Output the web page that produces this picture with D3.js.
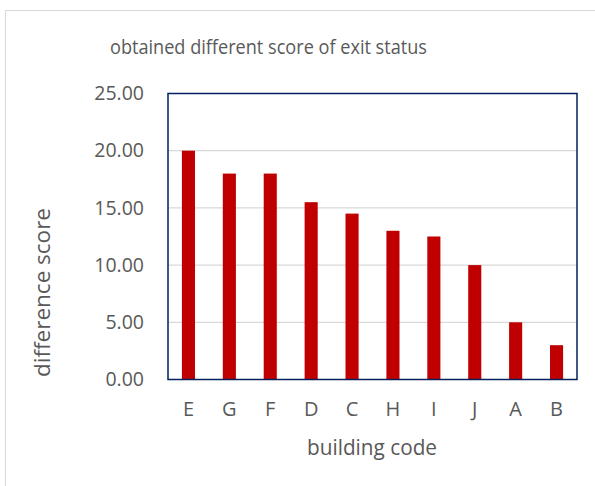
<!DOCTYPE html>
<html><head><meta charset="utf-8">
<script src="https://cdn.jsdelivr.net/npm/d3@7/dist/d3.min.js"></script>
<style>
html,body{margin:0;padding:0;background:#fff;}
svg{display:block;font-family:"Open Sans",sans-serif;}
</style></head>
<body><svg id="chart" width="595" height="486"></svg>
<script>
const categories = ["E","G","F","D","C","H","I","J","A","B"];
const values = [20, 18, 18, 15.5, 14.5, 13, 12.5, 10, 5, 3];
const yTicks = [0, 5, 10, 15, 20, 25];
const title = "obtained different score of exit status";
const xTitle = "building code";
const yTitle = "difference score";

const svg = d3.select("#chart");
const m = {left:168, top:93.5, right:577, bottom:379.5};

svg.append("rect").attr("x",5.5).attr("y",10.5).attr("width",620).attr("height",520)
  .attr("fill","#fff").attr("stroke","#d9d9d9").attr("stroke-width",1);

const x = d3.scaleBand().domain(categories).range([m.left, m.right]).paddingInner(0.68).paddingOuter(0.34);
const y = d3.scaleLinear().domain([0,25]).range([m.bottom, m.top]);

// gridlines
svg.append("g").selectAll("line").data(yTicks.filter(d=>d>0&&d<25)).join("line")
  .attr("x1",m.left).attr("x2",m.right).attr("y1",d=>y(d)).attr("y2",d=>y(d))
  .attr("stroke","#d9d9d9").attr("stroke-width",1.3);

// bars
svg.append("g").selectAll("rect").data(values).join("rect")
  .attr("x",(d,i)=>x(categories[i])).attr("width",x.bandwidth())
  .attr("y",d=>y(d)).attr("height",d=>y(0)-y(d))
  .attr("fill","#c00000");

// plot border
svg.append("rect").attr("x",m.left).attr("y",m.top).attr("width",m.right-m.left).attr("height",m.bottom-m.top)
  .attr("fill","none").attr("stroke","#002060").attr("stroke-width",1.5);

// y axis
const yAxis = d3.axisLeft(y).tickValues(yTicks).tickFormat(d3.format(".2f")).tickSize(0).tickPadding(24);
const gy = svg.append("g").attr("transform",`translate(${m.left},0)`).call(yAxis);
gy.select(".domain").remove();
gy.selectAll("text").attr("fill","#595959").attr("font-size",19.5).attr("font-family","Open Sans");

// x axis
const xAxis = d3.axisBottom(x).tickSize(0).tickPadding(22);
const gx = svg.append("g").attr("transform",`translate(0,${m.bottom})`).call(xAxis);
gx.select(".domain").remove();
gx.selectAll("text").attr("fill","#595959").attr("font-size",20).attr("font-family","Open Sans");

svg.append("text").attr("x",268.5).attr("y",54).attr("text-anchor","middle")
  .attr("fill","#595959").attr("font-size",19.5)
  .attr("textLength",317).attr("lengthAdjust","spacingAndGlyphs").text(title);
svg.append("text").attr("x",372).attr("y",455).attr("text-anchor","middle")
  .attr("fill","#595959").attr("font-size",21)
  .attr("textLength",130).attr("lengthAdjust","spacingAndGlyphs").text(xTitle);
svg.append("text").attr("transform","translate(50,292.5) rotate(-90)").attr("text-anchor","middle")
  .attr("fill","#595959").attr("font-size",21)
  .attr("textLength",169).attr("lengthAdjust","spacingAndGlyphs").text(yTitle);
</script></body></html>
